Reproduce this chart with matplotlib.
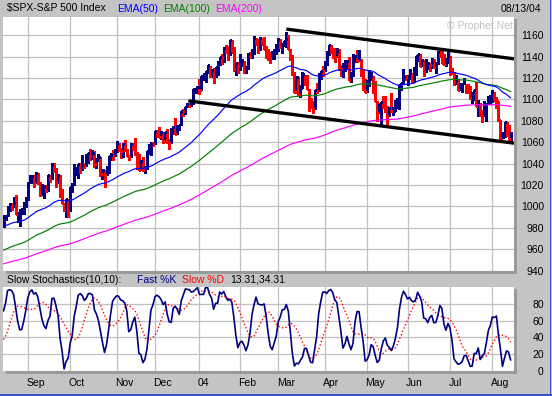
import numpy as np
import pandas as pd
import matplotlib
matplotlib.use("Agg")
import matplotlib.pyplot as plt
from matplotlib.patches import Rectangle

plt.rcParams['font.family'] = ['Liberation Sans', 'DejaVu Sans']

# ---- data (daily S&P 500 bars) ----
# first 20 rows are lead-in days (Jul 17 - Aug 13 2003), only used to warm up the stochastics
N_WARMUP = 20
holidays = ['2003-09-01', '2003-11-27', '2003-12-25', '2004-01-01', '2004-01-19',
            '2004-02-16', '2004-04-09', '2004-05-31', '2004-06-11', '2004-07-05']

close = [
    # warm-up
    981.7, 993.3, 978.8, 988.1, 988.6, 981.6, 998.7, 996.5, 989.3, 987.5,
    990.3, 980.2, 982.8, 965.5, 967.1, 974.1, 977.6, 980.6, 990.4, 984.0,
    # Aug 03
    990.7, 990.7, 999.7, 1002.4, 1000.3, 1003.3, 993.1, 993.7, 996.7, 996.8, 1002.8, 1008.0,
    # Sep
    1022.0, 1026.3, 1028.0, 1021.4, 1031.6, 1023.2, 1010.9, 1016.4, 1018.6, 1014.8, 1029.3,
    1026.0, 1039.6, 1036.3, 1022.8, 1029.0, 1009.4, 1003.3, 996.9, 1006.6, 996.0,
    # Oct
    1018.2, 1020.2, 1029.9, 1034.4, 1039.3, 1033.8, 1038.7, 1038.1, 1045.4, 1049.5, 1046.8,
    1050.1, 1039.3, 1044.7, 1046.0, 1030.4, 1033.8, 1028.9, 1031.1, 1046.8, 1048.1, 1046.9, 1050.7,
    # Nov
    1059.0, 1053.3, 1051.8, 1058.1, 1053.2, 1047.1, 1046.6, 1058.5, 1058.4, 1050.4,
    1043.6, 1034.2, 1042.4, 1033.7, 1035.3, 1052.1, 1053.9, 1058.5, 1058.2,
    # Dec
    1070.1, 1066.6, 1064.7, 1069.7, 1061.5, 1069.3, 1060.2, 1059.1, 1071.2, 1074.1, 1068.0,
    1075.1, 1076.5, 1089.2, 1088.7, 1092.9, 1096.0, 1094.0, 1095.9, 1109.5, 1109.6, 1111.9,
    # Jan 04
    1108.5, 1122.2, 1123.7, 1126.3, 1131.9, 1121.9, 1127.2, 1121.2, 1130.5, 1132.1,
    1139.8, 1138.8, 1147.6, 1143.9, 1141.6, 1155.4, 1144.1, 1128.5, 1134.1, 1131.1,
    # Feb
    1135.3, 1136.0, 1126.5, 1128.6, 1142.8, 1139.8, 1145.5, 1157.8, 1152.1, 1145.8,
    1157.0, 1151.8, 1147.1, 1144.1, 1141.0, 1139.1, 1143.7, 1144.9, 1144.9,
    # Mar
    1156.0, 1149.1, 1151.0, 1154.9, 1156.9, 1147.2, 1140.6, 1123.9, 1106.8, 1120.6, 1104.5,
    1110.7, 1123.8, 1122.3, 1109.8, 1095.4, 1094.0, 1091.3, 1109.2, 1108.1, 1122.5, 1127.0, 1126.2,
    # Apr
    1132.2, 1141.8, 1150.6, 1148.2, 1140.5, 1139.3, 1145.2, 1129.4, 1128.2, 1128.8, 1134.6,
    1135.8, 1118.2, 1124.1, 1139.3, 1140.6, 1135.5, 1138.1, 1122.4, 1113.9, 1107.3,
    # May
    1117.5, 1119.6, 1121.5, 1114.0, 1098.7, 1087.1, 1095.5, 1097.3, 1096.4, 1095.7,
    1084.1, 1091.5, 1088.7, 1089.2, 1093.6, 1095.4, 1113.1, 1114.9, 1121.3, 1120.7,
    # Jun
    1121.2, 1125.0, 1116.6, 1122.5, 1140.4, 1142.2, 1131.3, 1136.5, 1125.3, 1132.0, 1133.6,
    1132.0, 1135.0, 1130.3, 1134.4, 1144.1, 1140.7, 1134.4, 1133.4, 1136.2, 1140.8,
    # Jul
    1128.9, 1125.4, 1116.4, 1118.3, 1109.1, 1112.8, 1114.4, 1115.0, 1111.5, 1106.7, 1100.9,
    1100.9, 1108.7, 1093.9, 1096.8, 1086.2, 1084.1, 1094.8, 1095.4, 1100.4, 1101.7,
    # Aug
    1106.6, 1099.7, 1098.6, 1080.7, 1064.0, 1065.2, 1079.0, 1075.8, 1063.2, 1064.8,
]

high = [
    994.0, 994.5, 993.3, 990.3, 989.9, 998.9, 998.9, 1000.7, 998.6, 992.5,
    1004.6, 990.4, 985.5, 982.8, 974.9, 974.9, 980.6, 985.5, 990.4, 992.5,
    991.8, 992.4, 1000.4, 1003.5, 1003.5, 1009.0, 1011.0, 993.7, 997.9, 998.1, 1004.1, 1008.9,
    1022.6, 1029.2, 1029.0, 1029.3, 1032.4, 1031.6, 1023.2, 1020.9, 1019.7, 1019.7, 1029.7,
    1029.3, 1040.3, 1040.3, 1036.3, 1030.1, 1029.8, 1015.9, 1003.5, 1006.9, 1006.6,
    1018.2, 1021.9, 1039.3, 1036.5, 1039.3, 1040.8, 1048.3, 1040.8, 1048.9, 1049.5, 1053.8,
    1052.9, 1051.9, 1044.7, 1048.6, 1046.0, 1035.3, 1033.8, 1037.8, 1046.8, 1049.8, 1052.8, 1053.8,
    1061.4, 1059.0, 1054.5, 1058.9, 1062.4, 1053.7, 1048.2, 1059.6, 1059.6, 1063.7,
    1050.4, 1048.8, 1043.2, 1046.5, 1037.6, 1052.1, 1058.1, 1060.6, 1060.6,
    1070.5, 1071.2, 1074.3, 1070.4, 1069.7, 1069.9, 1071.9, 1063.0, 1073.6, 1074.8, 1082.8,
    1075.9, 1076.5, 1089.5, 1091.0, 1092.9, 1096.9, 1096.4, 1098.5, 1109.5, 1109.8, 1112.6,
    1118.9, 1122.2, 1124.5, 1126.3, 1131.9, 1131.2, 1127.9, 1129.1, 1130.7, 1136.0,
    1139.8, 1142.2, 1148.7, 1150.5, 1150.3, 1155.4, 1155.4, 1149.1, 1134.4, 1135.4,
    1142.5, 1137.4, 1136.0, 1131.2, 1143.2, 1144.5, 1147.0, 1158.9, 1157.8, 1156.9,
    1158.6, 1157.0, 1158.6, 1149.8, 1146.7, 1144.6, 1145.2, 1147.4, 1151.7,
    1157.0, 1156.5, 1152.4, 1154.9, 1163.2, 1159.9, 1147.3, 1141.5, 1125.9, 1120.6, 1120.6,
    1113.8, 1125.5, 1122.3, 1122.5, 1109.8, 1101.5, 1098.2, 1109.2, 1115.3, 1124.4, 1127.0, 1130.8,
    1135.7, 1144.8, 1150.6, 1150.6, 1148.2, 1148.0, 1147.8, 1147.3, 1132.5, 1134.1, 1136.8,
    1136.2, 1139.3, 1125.7, 1142.8, 1141.9, 1146.6, 1146.6, 1138.1, 1127.7, 1119.3,
    1118.2, 1127.7, 1125.5, 1121.5, 1117.3, 1098.6, 1095.7, 1097.6, 1102.8, 1102.9,
    1094.2, 1092.6, 1105.9, 1092.8, 1099.1, 1101.3, 1113.8, 1115.0, 1128.0, 1122.7,
    1122.7, 1128.1, 1125.0, 1130.2, 1140.5, 1142.2, 1142.2, 1136.5, 1136.5, 1137.4, 1135.3,
    1133.6, 1138.9, 1138.0, 1135.1, 1145.0, 1146.3, 1145.2, 1142.6, 1138.3, 1144.2,
    1140.8, 1129.2, 1125.4, 1122.4, 1119.1, 1115.6, 1115.0, 1119.6, 1114.6, 1114.6, 1112.2,
    1106.7, 1108.9, 1116.3, 1099.7, 1096.8, 1089.8, 1098.8, 1096.7, 1103.5, 1103.7,
    1108.6, 1106.6, 1102.5, 1098.8, 1080.7, 1069.5, 1079.0, 1079.0, 1075.8, 1069.5,
]

low = [
    978.0, 981.7, 975.6, 976.1, 979.8, 981.1, 977.2, 993.6, 984.7, 985.4,
    987.5, 977.6, 966.8, 964.4, 960.8, 963.8, 973.8, 974.2, 980.6, 980.9,
    980.9, 987.1, 990.7, 995.3, 996.6, 999.7, 992.6, 985.4, 981.6, 993.3, 993.3, 999.5,
    1005.6, 1022.2, 1022.2, 1018.2, 1021.4, 1021.1, 1009.7, 1010.9, 1007.7, 1013.2, 1014.8,
    1023.2, 1025.8, 1031.9, 1018.3, 1021.5, 1008.9, 1003.3, 996.0, 990.4, 990.4,
    996.0, 1013.4, 1020.2, 1029.2, 1026.3, 1030.9, 1033.8, 1035.7, 1038.1, 1040.8, 1043.2,
    1044.0, 1036.6, 1036.1, 1042.6, 1028.4, 1025.9, 1018.3, 1028.9, 1031.1, 1043.4, 1043.8, 1046.9,
    1050.7, 1051.7, 1045.0, 1046.5, 1052.2, 1047.1, 1043.5, 1046.6, 1052.9, 1048.1,
    1035.3, 1034.0, 1034.2, 1033.4, 1031.2, 1035.3, 1049.3, 1048.0, 1056.8,
    1058.2, 1065.2, 1064.6, 1063.2, 1059.7, 1060.1, 1059.2, 1053.4, 1059.1, 1067.6, 1068.0,
    1068.0, 1071.1, 1076.5, 1084.2, 1086.1, 1092.9, 1092.7, 1094.0, 1095.9, 1106.4, 1106.2,
    1105.1, 1108.5, 1118.4, 1116.4, 1124.9, 1120.9, 1120.9, 1115.2, 1121.2, 1123.0,
    1132.1, 1133.5, 1134.9, 1143.0, 1136.9, 1141.6, 1144.1, 1126.5, 1122.4, 1124.3,
    1127.9, 1131.3, 1124.7, 1124.4, 1128.6, 1139.8, 1138.7, 1142.3, 1151.4, 1143.2,
    1145.8, 1151.4, 1146.9, 1139.0, 1136.9, 1134.4, 1138.1, 1138.1, 1142.8,
    1144.9, 1147.7, 1143.8, 1149.8, 1148.8, 1146.9, 1136.8, 1122.5, 1106.8, 1106.8, 1103.8,
    1102.6, 1110.7, 1113.6, 1109.7, 1089.5, 1091.6, 1087.2, 1091.3, 1106.1, 1108.1, 1119.5, 1121.5,
    1126.2, 1132.2, 1141.6, 1143.3, 1138.4, 1134.5, 1139.3, 1127.7, 1122.2, 1120.8, 1126.9,
    1129.8, 1118.0, 1116.0, 1121.9, 1134.8, 1135.5, 1135.5, 1121.7, 1108.6, 1107.2,
    1107.3, 1112.9, 1117.9, 1106.3, 1098.6, 1079.6, 1087.1, 1076.3, 1091.8, 1088.5,
    1076.3, 1084.1, 1088.5, 1085.4, 1089.2, 1091.8, 1090.7, 1108.9, 1114.9, 1118.1,
    1113.3, 1118.6, 1116.6, 1116.6, 1122.5, 1135.5, 1131.2, 1131.3, 1122.2, 1125.3, 1128.4,
    1126.9, 1129.8, 1129.6, 1124.4, 1133.4, 1139.9, 1134.4, 1131.7, 1131.5, 1133.6,
    1123.1, 1123.7, 1113.6, 1114.3, 1108.7, 1109.1, 1106.7, 1114.0, 1106.3, 1106.5, 1100.4,
    1096.7, 1099.1, 1093.9, 1084.2, 1084.2, 1078.8, 1084.1, 1080.0, 1095.4, 1096.0,
    1097.1, 1099.2, 1092.4, 1079.9, 1062.2, 1064.0, 1065.2, 1065.9, 1062.4, 1060.7,
]

# EMA values at the first visible bar
ema_seed = {50: 981.7, 100: 959.3, 200: 946.4}
ema_colors = {50: '#0000ff', 100: '#008000', 200: '#ff00ff'}

# channel lines drawn on the chart: (bar index, price)
channel_top = [(140, 1165.7), (252.7, 1137.9)]
channel_bot = [(91.5, 1098.6), (252.7, 1059.1)]

month_names = ['Sep', 'Oct', 'Nov', 'Dec', '04', 'Feb', 'Mar', 'Apr', 'May', 'Jun', 'Jul', 'Aug']

# ---- derived series ----
dates = pd.bdate_range('2003-07-17', '2004-08-13')
dates = dates[~dates.isin(pd.to_datetime(holidays))]
df = pd.DataFrame({'close': close, 'high': high, 'low': low}, index=dates)

hh = df['high'].rolling(10).max()
ll = df['low'].rolling(10).min()
raw_k = 100 * (df['close'] - ll) / (hh - ll)
df['k'] = raw_k.rolling(3).mean()
df['d'] = df['k'].rolling(10, min_periods=1).mean()
df['down'] = df['close'] < df['close'].shift(1)

vis = df.iloc[N_WARMUP:].copy()
n = len(vis)
xs = np.arange(n)
cl = vis['close'].values

emas = {}
for span, seed in ema_seed.items():
    alpha = 2.0 / (span + 1)
    e = np.empty(n)
    e[0] = seed
    for t in range(1, n):
        e[t] = e[t - 1] + alpha * (cl[t] - e[t - 1])
    emas[span] = e

# first trading day of each month, Sep 03 .. Aug 04
mon = vis.index.to_period('M')
month_starts = [i for i in range(1, n) if mon[i] != mon[i - 1]]

# ---- figure ----
W, H = 552, 396
BG = '#c4c4c4'
GRID = '#c0c0c0'
fig = plt.figure(figsize=(W / 100, H / 100), dpi=100, facecolor=BG)


def px_axes(x0, y0, x1, y1):
    return fig.add_axes([x0 / W, 1 - y1 / H, (x1 - x0) / W, (y1 - y0) / H])


ax = px_axes(3, 17, 514, 270.6)
ax2 = px_axes(3, 287, 514, 371)

for a in (ax, ax2):
    a.set_facecolor('white')
    for s in a.spines.values():
        s.set_visible(False)
    a.set_xlim(-0.25, 252.7)
    a.set_xticks(month_starts)
    a.set_xticklabels([])
    a.yaxis.tick_right()
    a.tick_params(length=0, labelsize=7.5, pad=21.5)
    for lab in a.get_yticklabels():
        lab.set_horizontalalignment('right')
    a.grid(True, color=GRID, lw=0.9)
    a.set_axisbelow(True)

# price panel
ax.set_ylim(940, 1177)
ax.set_yticks(range(940, 1161, 20))
for lab in ax.get_yticklabels():
    lab.set_horizontalalignment('right')

bar_col = np.where(vis['down'].values, '#ff0000', '#000080')
ax.vlines(xs, vis['low'].values, vis['high'].values, colors=bar_col, lw=0.9, antialiased=False)
ax.hlines(cl, xs, xs + 0.55, colors=bar_col, lw=0.9, antialiased=False)

for span in (200, 100, 50):
    ax.plot(xs, emas[span], color=ema_colors[span], lw=0.85)

for pts in (channel_top, channel_bot):
    px_, py_ = zip(*pts)
    ax.plot(px_, py_, color='black', lw=2.4, solid_capstyle='butt')

# stochastics panel
ax2.set_ylim(0, 100)
ax2.set_yticks([0, 20, 40, 60, 80])
for lab in ax2.get_yticklabels():
    lab.set_horizontalalignment('right')
ax2.plot(xs, vis['d'].values, color='#ff0000', lw=1.0, ls=(0, (1, 1.6)))
ax2.plot(xs, vis['k'].values, color='#000080', lw=1.2)

for i, name in zip(month_starts, month_names):
    ax2.text(i - 0.8, -0.145, name, transform=ax2.get_xaxis_transform(),
             ha='left', va='center', fontsize=7.5)

# bevel shadows on the right and bottom of each panel
for (x0, y0, x1, y1) in [(514, 19, 517, 273.5), (6, 270.6, 517, 273.5),
                         (514, 289, 517, 374), (6, 371, 517, 374)]:
    fig.patches.append(Rectangle((x0 / W, 1 - y1 / H), (x1 - x0) / W, (y1 - y0) / H,
                                 transform=fig.transFigure, color='#9a9a9a', lw=0))

# window border
fig.patches.append(Rectangle((549.5 / W, 0), 1.5 / W, 1, transform=fig.transFigure,
                             color='#3355cc', lw=0))
fig.patches.append(Rectangle((0, 0), 1, 2 / H, transform=fig.transFigure,
                             color='#3355cc', lw=0))


def ftext(x, y, s, color='black', ha='left', size=7.5):
    fig.text(x / W, 1 - y / H, s, color=color, ha=ha, va='center', fontsize=size)


ftext(7, 8.5, '$SPX-S&P 500 Index')
ftext(117, 8.5, 'EMA(50)', color='#0000ff')
ftext(163, 8.5, 'EMA(100)', color='#008000')
ftext(215, 8.5, 'EMA(200)', color='#ff00ff')
ftext(541, 8.5, '08/13/04', ha='right')
ftext(447, 26, '\u00a9 Prophet.Net', color='#c0c0c0')

k_last = vis['k'].values[-1]
d_last = vis['d'].values[-1]
ftext(7, 280, 'Slow Stochastics(10,10):')
ftext(137, 280, 'Fast %K', color='#000080')
ftext(182, 280, 'Slow %D', color='#ff0000')
ftext(230, 280, '13.31,34.31')

fig.savefig('out.png', dpi=100, facecolor=BG)
